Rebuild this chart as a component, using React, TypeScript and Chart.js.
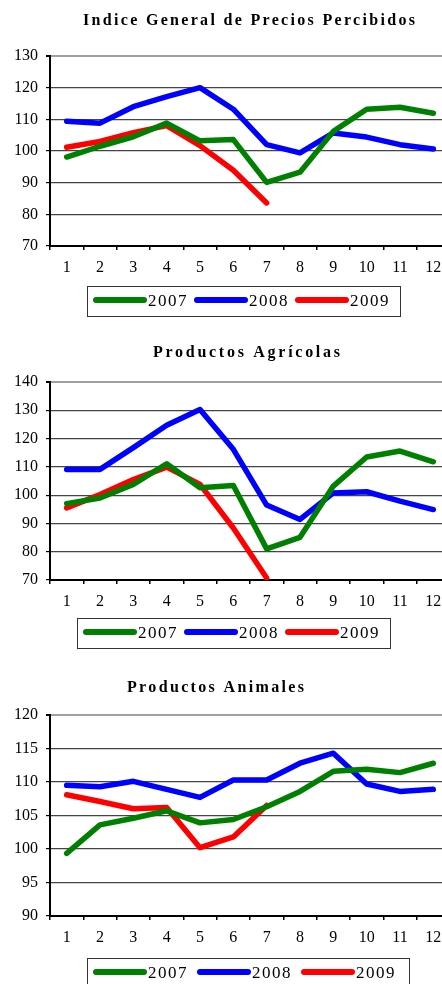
import { useEffect, useRef } from 'react';
import { Chart, registerables } from 'chart.js';

Chart.register(...registerables);

// ---------- data ----------
const months = ['1', '2', '3', '4', '5', '6', '7', '8', '9', '10', '11', '12'];
const seriesLabels = ['2007', '2008', '2009'];
const seriesColors = ['#008000', '#0000ff', '#ff0000'];

const generalTitle = 'Indice General de Precios Percibidos';
const general2007 = [98.1, 101.5, 104.5, 108.8, 103.2, 103.6, 90.1, 93.3, 106.2, 113.2, 113.8, 111.9];
const general2008 = [109.4, 108.8, 114.0, 117.2, 120.0, 113.2, 102.0, 99.4, 105.7, 104.4, 102.0, 100.6];
const general2009 = [101.2, 103.0, 105.8, 108.0, 101.7, 93.9, 83.6];
const generalMin = 70;
const generalMax = 130;
const generalStep = 10;

const agriTitle = 'Productos Agrícolas';
const agri2007 = [97.0, 99.0, 103.8, 111.1, 102.6, 103.4, 81.0, 85.1, 103.2, 113.5, 115.6, 111.8];
const agri2008 = [109.1, 109.1, 116.8, 124.7, 130.3, 116.2, 96.5, 91.4, 100.8, 101.2, 97.9, 94.9];
const agri2009 = [95.5, 100.2, 105.5, 109.9, 103.8, 88.4, 70.7];
const agriMin = 70;
const agriMax = 140;
const agriStep = 10;

const animTitle = 'Productos Animales';
const anim2007 = [99.35, 103.6, 104.6, 105.7, 103.9, 104.4, 106.3, 108.6, 111.6, 111.9, 111.4, 112.8];
const anim2008 = [109.5, 109.3, 110.1, 108.9, 107.7, 110.3, 110.3, 112.8, 114.3, 109.7, 108.6, 108.9];
const anim2009 = [108.1, 107.1, 106.0, 106.2, 100.2, 101.8, 106.5];
const animMin = 90;
const animMax = 120;
const animStep = 5;

// ---------- layout / style ----------
const CANVAS_W = 460;
const TICK_FONT = { family: 'Liberation Serif', size: 16 };

const decorPlugin = {
  id: 'decor',
  afterDraw(chart: any, _args: any, opts: any) {
    const ctx = chart.ctx as any;
    // title
    ctx.save();
    ctx.font = 'bold 16px "Liberation Serif"';
    ctx.fillStyle = '#000';
    ctx.textAlign = 'left';
    ctx.textBaseline = 'alphabetic';
    ctx.letterSpacing = '0px';
    const w0 = ctx.measureText(opts.title).width;
    const ls = (opts.titleWidth - w0) / (opts.title.length - 1);
    ctx.letterSpacing = ls + 'px';
    ctx.fillText(opts.title, opts.titleX - opts.titleWidth / 2, opts.titleY);
    ctx.restore();

    // legend
    ctx.save();
    const top = chart.chartArea.bottom + opts.legendOffset;
    const h = 30;
    const cy = top + h / 2;
    ctx.font = '17px "Liberation Serif"';
    ctx.letterSpacing = '1.5px';
    ctx.textAlign = 'left';
    ctx.textBaseline = 'middle';
    let x = opts.legendLeft + 6;
    chart.data.datasets.forEach((ds: any) => {
      ctx.strokeStyle = ds.borderColor;
      ctx.lineWidth = 6;
      ctx.lineCap = 'round';
      ctx.beginPath();
      ctx.moveTo(x + 3, cy - 1);
      ctx.lineTo(x + 51, cy - 1);
      ctx.stroke();
      x += 55;
      ctx.fillStyle = '#000';
      ctx.fillText(ds.label, x, cy + 1);
      x += ctx.measureText(ds.label).width + opts.legendGap;
    });
    ctx.strokeStyle = '#333';
    ctx.lineWidth = 1;
    ctx.strokeRect(opts.legendLeft + 0.5, top + 0.5, x - opts.legendLeft + 4, h);
    ctx.restore();
  },
};

type Spec = {
  series: number[][];
  min: number;
  max: number;
  step: number;
  title: string;
  titleX: number;
  titleY: number;
  titleWidth: number;
  plotTop: number;
  plotBottom: number;
  height: number;
  legendLeft: number;
  legendOffset: number;
  legendGap: number;
};

function makeConfig(spec: Spec): any {
  const xAxisH = 32;
  return {
    type: 'line',
    data: {
      labels: months,
      datasets: spec.series.map((data, i) => ({
        label: seriesLabels[i],
        data,
        borderColor: seriesColors[i],
        backgroundColor: seriesColors[i],
        borderWidth: 5.5,
        pointRadius: 0,
        tension: 0,
        fill: false,
        borderCapStyle: 'round',
        borderJoinStyle: 'round',
      })),
    },
    plugins: [decorPlugin],
    options: {
      animation: false,
      responsive: false,
      events: [],
      layout: {
        padding: {
          top: spec.plotTop,
          bottom: spec.height - spec.plotBottom - xAxisH,
          left: 0,
          right: 10,
        },
      },
      plugins: {
        legend: { display: false },
        title: { display: false },
        tooltip: { enabled: false },
        decor: {
          title: spec.title,
          titleX: spec.titleX,
          titleY: spec.titleY,
          titleWidth: spec.titleWidth,
          legendLeft: spec.legendLeft,
          legendOffset: spec.legendOffset,
          legendGap: spec.legendGap,
        },
      },
      scales: {
        x: {
          offset: true,
          grid: {
            offset: true,
            drawOnChartArea: false,
            drawTicks: true,
            tickLength: 4,
            color: '#000',
            tickColor: '#000',
            lineWidth: 1.5,
          },
          border: { display: true, color: '#000', width: 2 },
          ticks: { color: '#000', font: TICK_FONT, padding: 8, maxRotation: 0, autoSkip: false },
          afterFit: (s: any) => {
            s.height = xAxisH;
          },
        },
        y: {
          min: spec.min,
          max: spec.max,
          ticks: { stepSize: spec.step, color: '#000', font: TICK_FONT, padding: 8 },
          grid: {
            color: (c: any) => (c.tick && c.tick.value === spec.max ? '#a0a0a0' : '#444'),
            lineWidth: (c: any) => (c.tick && c.tick.value === spec.max ? 2 : 1.2),
            tickColor: '#000',
            tickLength: 4,
          },
          border: { display: true, color: '#000', width: 2 },
          afterFit: (s: any) => {
            s.width = 50;
          },
        },
      },
    },
  };
}

const specs: { top: number; spec: Spec }[] = [
  {
    top: 0,
    spec: {
      series: [general2007, general2008, general2009],
      min: generalMin,
      max: generalMax,
      step: generalStep,
      title: generalTitle,
      titleX: 249,
      titleY: 25,
      titleWidth: 332,
      plotTop: 56,
      plotBottom: 246,
      height: 325,
      legendLeft: 87,
      legendOffset: 40,
      legendGap: 6,
    },
  },
  {
    top: 328,
    spec: {
      series: [agri2007, agri2008, agri2009],
      min: agriMin,
      max: agriMax,
      step: agriStep,
      title: agriTitle,
      titleX: 246.5,
      titleY: 29,
      titleWidth: 187,
      plotTop: 54,
      plotBottom: 252,
      height: 330,
      legendLeft: 77,
      legendOffset: 38,
      legendGap: 6,
    },
  },
  {
    top: 660,
    spec: {
      series: [anim2007, anim2008, anim2009],
      min: animMin,
      max: animMax,
      step: animStep,
      title: animTitle,
      titleX: 215.5,
      titleY: 32,
      titleWidth: 177,
      plotTop: 55,
      plotBottom: 256,
      height: 324,
      legendLeft: 87,
      legendOffset: 42,
      legendGap: 9,
    },
  },
];

function LineChart({ spec, top }: { spec: Spec; top: number }) {
  const ref = useRef<HTMLCanvasElement | null>(null);
  useEffect(() => {
    if (!ref.current) return;
    const chart = new Chart(ref.current, makeConfig(spec));
    return () => chart.destroy();
  }, [spec]);
  return (
    <canvas
      ref={ref}
      width={CANVAS_W}
      height={spec.height}
      style={{ position: 'absolute', left: 0, top, width: CANVAS_W, height: spec.height }}
    />
  );
}

export default function App() {
  return (
    <div
      style={{
        position: 'fixed',
        left: 0,
        top: 0,
        width: 442,
        height: 984,
        overflow: 'hidden',
        background: '#fff',
      }}
    >
      {specs.map((s, i) => (
        <LineChart key={i} spec={s.spec} top={s.top} />
      ))}
    </div>
  );
}
